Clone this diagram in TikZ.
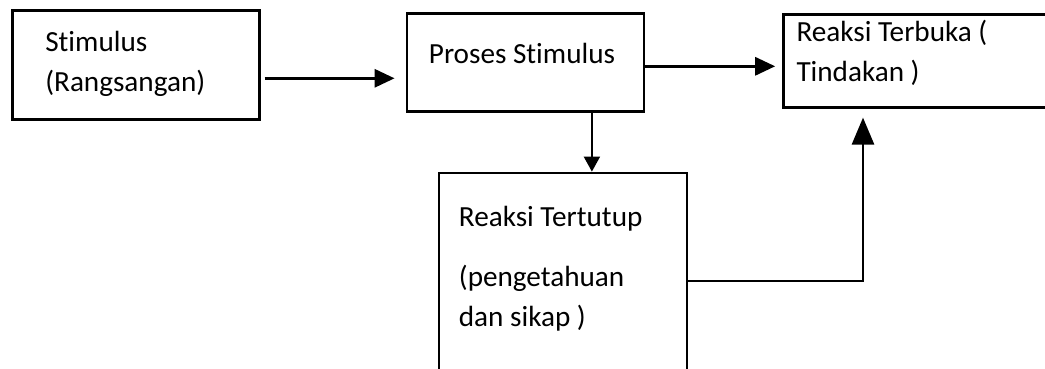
\documentclass[tikz,border=0pt]{standalone}
\usepackage{fontspec}
\setmainfont{Carlito}[Ligatures=NoCommon]
\usepackage{tikz}
\usetikzlibrary{arrows.meta,positioning}

\begin{document}
\begin{tikzpicture}[x=0.5pt,y=-0.5pt,
		kotak/.style={draw,line width=1.3pt,anchor=north west,align=flush left,inner ysep=0pt,font=\fontsize{14.6}{20}\selectfont},
		panah/.style={line width=1.5pt,-{Triangle[length=10pt,width=9pt]}}]
	\useasboundingbox (0,0) rectangle (1045,369);
	\clip (0,0) rectangle (1045,369);
		\node[kotak,inner xsep=16.5pt,text width=90.5pt,text height=20.5pt,text depth=34pt] (Stimulus) at (11,9) {Stimulus\\(Rangsangan)};
		\node[kotak,inner xsep=11pt,text width=96.5pt,text height=25pt,text depth=24pt] (Proses) [below right=1.5pt and 72.5pt of Stimulus.north east] {Proses Stimulus};
		\node[kotak,inner xsep=6.5pt,text width=119pt,text height=13.5pt,text depth=33pt] (Terbuka) [below right=0.5pt and 68.5pt of Proses.north east] {Reaksi Terbuka (\\Tindakan )};
		\node[kotak,inner xsep=10pt,text width=104pt,text height=27pt,text depth=78.5pt] (Tertutup) [below right=29.5pt and 16pt of Proses.south west] {Reaksi Tertutup\\[10pt](pengetahuan\\dan sikap )};
		
		\coordinate (turun) at ([xshift=33.25pt]Proses.south);
		\coordinate (belok) at (863,281);
		
		\path[panah]
		([xshift=2pt,yshift=-6.75pt]Stimulus.east) edge ([xshift=-5.5pt,yshift=-8pt]Proses.west)
		([yshift=-2pt]Proses.east) edge ([xshift=-3.5pt,yshift=-2.75pt]Terbuka.west)
		(turun) edge[line width=1pt,-{Triangle[length=7.5pt,width=8pt]}] (turun |- Tertutup.north);
		
		\draw[panah,line width=1.4pt,-{Triangle[length=13.5pt,width=11pt]},shorten >=4.5pt] (Tertutup.east |- belok) -- (belok) -- (belok |- Terbuka.south);
					
\end{tikzpicture}
\end{document}
